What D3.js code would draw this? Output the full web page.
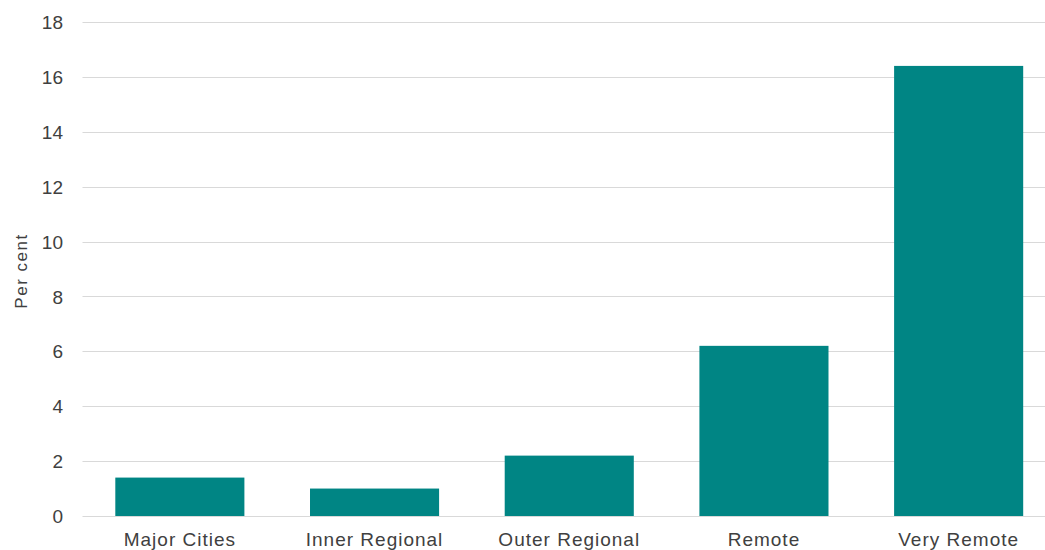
<!DOCTYPE html>
<html>
<head>
<meta charset="utf-8">
<script src="https://cdn.jsdelivr.net/npm/d3@7"></script>
<style>
  html, body { margin: 0; padding: 0; background: #fff; }
  svg { display: block; }
  text { font-family: "Liberation Sans", Arial, sans-serif; fill: #404040; }
</style>
</head>
<body>
<script>
const categories = ["Major Cities", "Inner Regional", "Outer Regional", "Remote", "Very Remote"];
const values = [1.4, 1.0, 2.2, 6.2, 16.4];
const yTicks = [0, 2, 4, 6, 8, 10, 12, 14, 16, 18];
const yLabel = "Per cent";

const W = 1045, H = 550;
const svg = d3.select("body").append("svg").attr("width", W).attr("height", H);

const x0 = 82.5, step = 194.7;
const x = d3.scaleBand().domain(categories).range([x0, x0 + step * categories.length])
  .paddingInner(0.337).paddingOuter(0.337 / 2);
const y = d3.scaleLinear().domain([0, 18]).range([516, 22]);

// gridlines
svg.append("g").selectAll("line").data(yTicks).join("line")
  .attr("x1", x0).attr("x2", W)
  .attr("y1", d => Math.round(y(d)) + 0.5).attr("y2", d => Math.round(y(d)) + 0.5)
  .attr("stroke", "#d9d9d9").attr("stroke-width", 1);

// y axis labels
const yAxis = d3.axisLeft(y).tickValues(yTicks).tickSize(0).tickPadding(0);
const gy = svg.append("g").attr("transform", "translate(63,0)").call(yAxis);
gy.select(".domain").remove();
gy.selectAll("text").style("font-size", "19px").attr("dy", "0.35em").attr("fill", "#404040")
  .style("font-family", "'Liberation Sans', Arial, sans-serif");

// bars
svg.append("g").selectAll("rect").data(values).join("rect")
  .attr("x", (d, i) => x(categories[i]))
  .attr("width", x.bandwidth())
  .attr("y", d => y(d))
  .attr("height", d => y(0) - y(d))
  .attr("fill", "#008584");

// x labels
const xAxis = d3.axisBottom(x).tickSize(0).tickPadding(0);
const gx = svg.append("g").attr("transform", "translate(0,532)").call(xAxis);
gx.select(".domain").remove();
gx.selectAll("text").style("font-size", "19px").style("letter-spacing", "1px")
  .attr("dy", "0.71em").attr("fill", "#404040")
  .style("font-family", "'Liberation Sans', Arial, sans-serif");

// y title
svg.append("text")
  .attr("transform", "translate(27,271) rotate(-90)")
  .attr("text-anchor", "middle")
  .style("font-size", "17px").style("letter-spacing", "1.5px")
  .text(yLabel);
</script>
</body>
</html>
